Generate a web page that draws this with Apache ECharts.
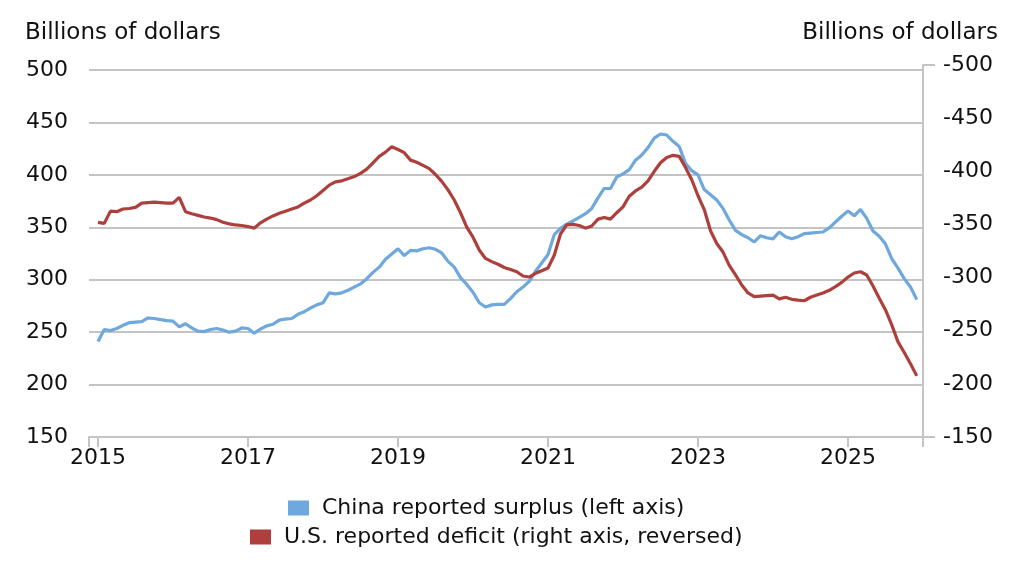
<!DOCTYPE html>
<html>
<head>
<meta charset="utf-8">
<script src="https://cdn.jsdelivr.net/npm/echarts@6/dist/echarts.min.js"></script>
<style>
html,body{margin:0;padding:0;background:#fff;}
#chart{width:1018px;height:564px;}
</style>
</head>
<body>
<div id="chart"></div>
<script>
// Monthly data, Jan 2015 - Dec 2025
const startYear = 2015;
const chinaSurplus = [
  241, 252.5, 251.5, 253.5, 256.5, 259, 259.5, 260, 263.5, 263, 262, 261,
  260.5, 255, 258, 254, 251, 250.5, 252.5, 253.5, 252, 250, 251, 254,
  253.5, 249, 253, 256, 257.5, 261.5, 262.5, 263, 267, 269.5, 273, 276,
  278, 287.5, 286.5, 287.5, 290, 293, 296, 301, 307, 312, 319.5, 324.5,
  329.5, 323, 328, 327.5, 329.5, 330.5, 329, 325.5, 317.5, 312, 302, 295.5,
  288, 278, 274, 276, 276.5, 276.5, 282, 288.5, 293, 298.5, 308, 316,
  324, 343, 349, 353, 356, 359.5, 363, 368, 378, 387, 387, 398,
  401, 405, 414, 419, 426, 435, 439, 438, 432, 427, 411, 404,
  400, 386, 381, 376, 368, 357, 347, 343, 340, 336, 342, 340,
  339, 345.5, 341, 339, 341, 344, 344.5, 345, 345.5, 349.5, 355, 360.5,
  365.5, 361, 367, 358.5, 346.5, 341.5, 334, 320, 311, 301, 293, 281
];
const usDeficit = [
  -352, -351, -362.5, -362, -364.5, -365, -366, -370, -370.5, -371, -370.5, -370,
  -370, -375.5, -362, -360, -358.5, -357, -356, -354.5, -352, -350.5, -349.5, -349,
  -348, -346.5, -351.5, -355, -358, -360.5, -362.5, -364.5, -366.5, -370, -373, -377,
  -382, -387, -390, -391, -393, -395, -398, -402, -408, -414, -418, -423,
  -420.5, -417.5, -410.5, -408.5, -405.5, -402.5, -397, -390.5, -382.5, -373, -361, -347.5,
  -338, -326, -318, -315, -312.5, -309.5, -307.5, -305.5, -301.5, -300.5, -304, -306.5,
  -309, -321, -341, -349.5, -350, -349, -346.5, -348.5, -355, -356.5, -355, -361,
  -366.5, -376.5, -381.5, -385, -391, -400, -408, -413, -415, -414, -403.5, -392,
  -377, -364, -344, -332, -324, -311.5, -302.5, -293, -285.5, -282, -282.5, -283,
  -283.5, -280, -281.5, -279.5, -278.7, -278.2, -281.5, -283.5, -285.5, -288, -291.5, -295.5,
  -300.5, -304.3, -305.5, -302.4, -292, -280.5, -269.5, -255.5, -239.5, -229.5, -219, -207.5
];
const yearLabels = [2015, 2017, 2019, 2021, 2023, 2025];
const leftTicks = [150, 200, 250, 300, 350, 400, 450, 500];
const rightTicks = [-500, -450, -400, -350, -300, -250, -200, -150];
const seriesNames = ['China reported surplus (left axis)', 'U.S. reported deficit (right axis, reversed)'];
const unitLabel = 'Billions of dollars';

const xMin = 2014.88, xMax = 2026.0;
const toPairs = arr => arr.map((v, i) => [startYear + i / 12, v]);

const FONT = 'DejaVu Sans';
const TXT = '#111111';
const GRID = '#c4c4c4';
const FS = 22;

const chart = echarts.init(document.getElementById('chart'), null, {renderer: 'canvas'});
chart.setOption({
  animation: false,
  backgroundColor: '#fff',
  textStyle: {fontFamily: FONT},
  title: [
    {text: unitLabel, left: 25, top: 22, padding: 0,
     textStyle: {fontFamily: FONT, fontSize: 23, fontWeight: 'normal', color: TXT}},
    {text: unitLabel, right: 20, top: 22, padding: 0,
     textStyle: {fontFamily: FONT, fontSize: 23, fontWeight: 'normal', color: TXT}}
  ],
  legend: [
    {data: [seriesNames[0]], left: 288, top: 497, orient: 'horizontal', padding: 0,
     itemWidth: 21, itemHeight: 15, icon: 'rect',
     textStyle: {fontFamily: FONT, fontSize: FS, color: TXT, padding: [0, 0, 0, 8]}},
    {data: [seriesNames[1]], left: 250, top: 526, orient: 'horizontal', padding: 0,
     itemWidth: 21, itemHeight: 15, icon: 'rect',
     textStyle: {fontFamily: FONT, fontSize: FS, color: TXT, padding: [0, 0, 0, 8]}}
  ],
  grid: [
    {left: 89, right: 95, top: 70, bottom: 127, containLabel: false},
    {left: 89, right: 95, top: 65, bottom: 127, containLabel: false}
  ],
  xAxis: [
    {type: 'value', gridIndex: 0, min: xMin, max: xMax,
     axisLine: {show: true, lineStyle: {color: GRID, width: 2}},
     axisTick: {show: true, length: 10, lineStyle: {color: GRID, width: 2},
                customValues: [xMin].concat(yearLabels, [xMax])},
     axisLabel: {show: true, customValues: yearLabels, margin: 10,
                 fontFamily: FONT, fontSize: FS, color: TXT,
                 formatter: v => String(Math.round(v))},
     splitLine: {show: false}},
    {type: 'value', gridIndex: 1, min: xMin, max: xMax, show: false}
  ],
  yAxis: [
    {type: 'value', gridIndex: 0, min: 150, max: 500, interval: 50, position: 'left',
     axisLine: {show: false}, axisTick: {show: false},
     axisLabel: {margin: 21, fontFamily: FONT, fontSize: FS, color: TXT},
     splitLine: {show: true, lineStyle: {color: GRID, width: 2}}},
    {type: 'value', gridIndex: 1, min: -500, max: -150, interval: 50, inverse: true, position: 'right',
     axisLine: {show: true, lineStyle: {color: GRID, width: 2}},
     axisTick: {show: true, inside: false, length: 12, customValues: [-500, -150],
                lineStyle: {color: GRID, width: 2}},
     axisLabel: {margin: 20, fontFamily: FONT, fontSize: FS, color: TXT,
                 verticalAlign: 'middle', padding: [0, 0, 7, 0]},
     splitLine: {show: false}}
  ],
  series: [
    {name: seriesNames[0], type: 'line', xAxisIndex: 0, yAxisIndex: 0,
     data: toPairs(chinaSurplus), showSymbol: false, symbol: 'none',
     itemStyle: {color: '#6ea8dc'},
     lineStyle: {color: '#6ea8dc', width: 3.2}},
    {name: seriesNames[1], type: 'line', xAxisIndex: 1, yAxisIndex: 1,
     data: toPairs(usDeficit), showSymbol: false, symbol: 'none',
     itemStyle: {color: '#ad403c'},
     lineStyle: {color: '#ad403c', width: 3.2}}
  ]
});
</script>
</body>
</html>
